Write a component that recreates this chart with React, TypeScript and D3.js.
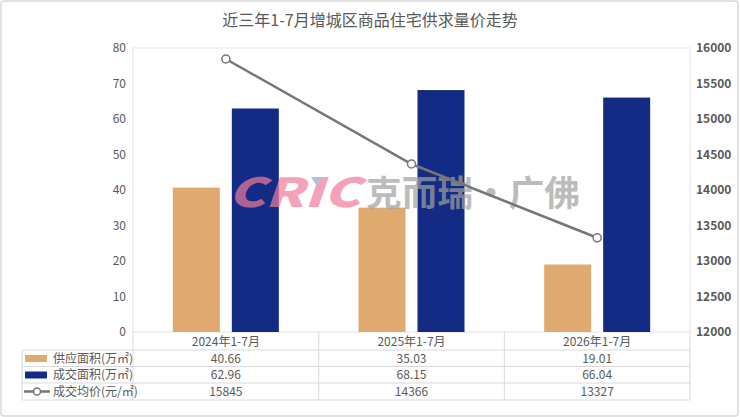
import React from "react";
import * as d3 from "d3";

const categories = ["2024年1-7月", "2025年1-7月", "2026年1-7月"];
const supplyArea = [40.66, 35.03, 19.01];
const dealArea = [62.96, 68.15, 66.04];
const avgPrice = [15845, 14366, 13327];
const leftTicks = [0, 10, 20, 30, 40, 50, 60, 70, 80];
const rightTicks = [12000, 12500, 13000, 13500, 14000, 14500, 15000, 15500, 16000];
const seriesNames = ["供应面积(万㎡)", "成交面积(万㎡)", "成交均价(元/㎡)"];

const W = 740, H = 417;
const L = 133, R = 690, T = 48, B = 332;
const ORANGE = "#DFAA70";
const BLUE = "#132B84";
const GRAY = "#767676";
const FONT = "'Noto Sans CJK SC', 'Noto Sans', sans-serif";

export default function App() {
  const x = d3.scaleBand<string>().domain(categories).range([L, R]);
  const yL = d3.scaleLinear().domain([0, 80]).range([B, T]);
  const yR = d3.scaleLinear().domain([12000, 16000]).range([B, T]);
  const bw = 47, gap = 12;
  const rowH = [332, 350, 366.5, 383, 400];
  const line = d3.line<number>()
    .x((_, i) => x(categories[i])! + x.bandwidth() / 2)
    .y((d) => yR(d));
  const tableLeft = 22;
  return (
    <svg width={W} height={H} style={{ position: "absolute", left: 0, top: 0, fontFamily: FONT }}>
      <rect x={1} y={1} width={W - 3} height={H - 2} rx={3} fill="#fff" stroke="#D9D9D9" strokeWidth={1.5} />
      <text x={370} y={26} textAnchor="middle" fontSize={16} fill="#595959">近三年1-7月增城区商品住宅供求量价走势</text>
      {/* plot frame */}
      <rect x={L} y={T} width={R - L} height={B - T} fill="none" stroke="#E3E3E3" />
      {leftTicks.map((t) => (
        <text key={t} x={126} y={yL(t) + 4} textAnchor="end" fontSize={12} fill="#595959">{t}</text>
      ))}
      {rightTicks.map((t) => (
        <text key={t} x={696} y={yR(t) + 4} textAnchor="start" fontSize={12} fill="#595959" fontWeight={600}>{t}</text>
      ))}
      {/* bars */}
      {categories.map((c, i) => {
        const cx = x(c)! + x.bandwidth() / 2;
        return (
          <g key={c}>
            <rect x={cx - gap / 2 - bw} y={yL(supplyArea[i])} width={bw} height={B - yL(supplyArea[i])} fill={ORANGE} />
            <rect x={cx + gap / 2} y={yL(dealArea[i])} width={bw} height={B - yL(dealArea[i])} fill={BLUE} />
          </g>
        );
      })}
      {/* watermark */}
      <g opacity={0.7}>
        <text x={228} y={207} fontSize={40} fontWeight={900} fontStyle="italic" fill="#F27C9C" textLength={132} lengthAdjust="spacingAndGlyphs">CRIC</text>
        <polygon points="311,177 324,177 316,185" fill="#8FA8CC" />
        <text x={366} y={206} fontSize={35} fontWeight={700} fill="#A0A0A0" textLength={214} lengthAdjust="spacingAndGlyphs">克而瑞·广佛</text>
      </g>
      {/* line */}
      <path d={line(avgPrice) || ""} fill="none" stroke={GRAY} strokeWidth={2.5} />
      {avgPrice.map((v, i) => (
        <circle key={i} cx={x(categories[i])! + x.bandwidth() / 2} cy={yR(v)} r={4} fill="#fff" stroke={GRAY} strokeWidth={1.5} />
      ))}
      {/* table */}
      <g stroke="#D9D9D9" strokeWidth={1}>
        {rowH.slice(1).map((y) => (
          <line key={y} x1={tableLeft} x2={R} y1={y} y2={y} />
        ))}
        <line x1={tableLeft} x2={tableLeft} y1={rowH[1]} y2={rowH[4]} />
        {[L, ...categories.map((c) => x(c)! + x.bandwidth())].map((xx, i) => (
          <line key={i} x1={xx} x2={xx} y1={rowH[0]} y2={rowH[4]} />
        ))}
      </g>
      {categories.map((c) => (
        <text key={c} x={x(c)! + x.bandwidth() / 2} y={346} textAnchor="middle" fontSize={12} fill="#595959">{c}</text>
      ))}
      {[supplyArea, dealArea, avgPrice].map((arr, r) =>
        arr.map((v, i) => (
          <text key={`${r}-${i}`} x={x(categories[i])! + x.bandwidth() / 2} y={(rowH[r + 1] + rowH[r + 2]) / 2 + 4.5} textAnchor="middle" fontSize={12} fill="#595959">
            {r < 2 ? v.toFixed(2) : String(v)}
          </text>
        ))
      )}
      <rect x={25} y={355} width={22} height={7} fill={ORANGE} />
      <rect x={25} y={371.5} width={22} height={7} fill={BLUE} />
      <line x1={24} x2={50} y1={391.5} y2={391.5} stroke={GRAY} strokeWidth={2.5} />
      <circle cx={37} cy={391.5} r={3.5} fill="#fff" stroke={GRAY} strokeWidth={1.5} />
      {seriesNames.map((n, r) => (
        <text key={n} x={53} y={(rowH[r + 1] + rowH[r + 2]) / 2 + 4.5} fontSize={12} fill="#595959">{n}</text>
      ))}
    </svg>
  );
}
